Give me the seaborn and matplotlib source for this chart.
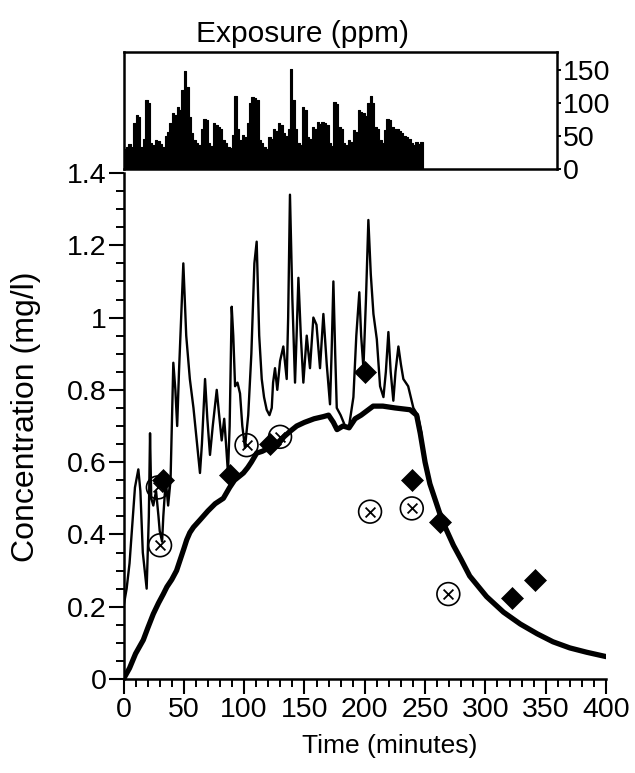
import numpy as np
import pandas as pd
import matplotlib
matplotlib.use("Agg")
import matplotlib.pyplot as plt
from matplotlib.ticker import MultipleLocator, FixedLocator, FixedFormatter
import seaborn as sns

# ---------------- data ----------------
# Exposure (ppm), 2-minute steps starting at t = 0
exp_start = list(range(0, 248, 2))
exp_ppm = [30, 34, 38, 33, 70, 81, 78, 34, 45, 104,
           100, 40, 36, 44, 42, 38, 34, 50, 56, 70,
           84, 82, 94, 90, 120, 149, 124, 79, 55, 44,
           40, 36, 60, 76, 74, 39, 35, 69, 66, 64,
           60, 44, 40, 34, 32, 51, 111, 60, 44, 51,
           48, 70, 100, 109, 107, 105, 44, 40, 34, 31,
           49, 46, 61, 58, 69, 66, 54, 50, 60, 151,
           104, 60, 39, 36, 94, 90, 49, 45, 64, 60,
           71, 68, 71, 69, 66, 39, 35, 101, 98, 64,
           60, 39, 36, 44, 41, 59, 56, 89, 86, 84,
           80, 100, 111, 100, 64, 60, 44, 40, 59, 76,
           74, 64, 60, 61, 58, 54, 50, 49, 46, 39,
           36, 41, 38, 41]

# Thin line (measured concentration, mg/l)
thin_t = [0, 2.6, 5, 9.5, 12.3, 14, 16, 19.2, 21, 22, 23, 24.7, 27, 29, 30, 32, 33, 35, 37, 39,
          41.3, 43, 44.5, 46, 49.6, 52, 55, 58, 61, 63.4, 65, 67.6, 69.5, 71.7, 74, 77.3, 79,
          81.4, 83.5, 85, 86.6, 88, 89.7, 91, 92.5, 94.5, 96.6, 98.5, 100.7, 103.4, 106, 108.5,
          110.4, 112.5, 114.6, 116.5, 118.7, 121, 122.9, 124, 125.6, 127.5, 129.8, 132.5,
          135.3, 136.5, 138, 140, 142.2, 143.5, 145, 147, 149.1, 151.9, 154.6, 157.4, 160,
          162.9, 165.7, 168.5, 171.2, 172.5, 174, 175.5, 176.8, 180, 183.7, 187, 190.6, 193,
          195.5, 197, 198.9, 201, 203, 205, 207.2, 210, 212.7, 215.5, 217.5, 219.6, 221.5,
          223.7, 225.5, 227.9, 230, 232, 236, 240.3, 244, 247]
thin_c = [0.20, 0.25, 0.32, 0.53, 0.58, 0.52, 0.35, 0.25, 0.45, 0.68, 0.50, 0.48, 0.52, 0.45,
          0.41, 0.38, 0.45, 0.55, 0.48, 0.55,
          0.875, 0.80, 0.70, 0.85, 1.15, 0.95, 0.83, 0.75, 0.65, 0.57, 0.65, 0.83, 0.72, 0.62,
          0.70, 0.80, 0.74, 0.66, 0.72, 0.65, 0.57, 0.70, 1.03, 0.95, 0.81, 0.82, 0.79, 0.70,
          0.64, 0.73, 0.90, 1.15, 1.21, 0.95, 0.83, 0.78, 0.745, 0.73, 0.75, 0.82, 0.86, 0.80,
          0.88, 0.92, 0.83, 1.0, 1.34, 1.05, 0.82, 0.95, 1.11, 0.95, 0.82, 0.95, 0.86, 1.0,
          0.98, 0.86, 1.01, 0.87, 0.76, 0.90, 1.10, 0.90, 0.75, 0.73, 0.70, 0.70, 0.78, 0.95,
          1.07, 0.95, 0.86, 1.05, 1.27, 1.12, 1.01, 0.94, 0.81, 0.78, 0.85, 0.96, 0.85, 0.77,
          0.85, 0.92, 0.87, 0.83, 0.81, 0.75, 0.73, 0.68]

# Thick line (model concentration, mg/l)
model_t = [0, 5, 10, 16.4, 20, 24.7, 29, 33, 36, 40, 44, 47, 50, 52.4, 55, 58, 63.4, 70, 76,
           82.8, 88, 92, 99.4, 103, 106, 110.4, 115, 121, 127, 133, 138, 143.6, 150, 158,
           165.7, 170, 174, 177, 182, 187, 192, 197, 203, 207, 215, 225, 237.6, 243, 246,
           250, 254, 258, 262, 266, 273.5, 280, 287, 301, 315, 329, 343, 356, 370, 384, 400]
model_c = [0, 0.03, 0.07, 0.108, 0.14, 0.18, 0.21, 0.235, 0.255, 0.275, 0.30, 0.33, 0.36, 0.385,
           0.405, 0.42, 0.44, 0.465, 0.485, 0.50, 0.53, 0.55, 0.57, 0.585, 0.60, 0.625, 0.63,
           0.64, 0.645, 0.67, 0.685, 0.70, 0.71, 0.72, 0.726, 0.73, 0.71, 0.69, 0.70, 0.695,
           0.72, 0.73, 0.745, 0.755, 0.755, 0.75, 0.745, 0.73, 0.68, 0.60, 0.54, 0.50, 0.46,
           0.425, 0.37, 0.33, 0.285, 0.228, 0.185, 0.152, 0.125, 0.103, 0.086, 0.074, 0.062]

# Diamond markers
dia_t = [33, 88, 121.5, 200, 239, 262.4, 322, 341]
dia_c = [0.55, 0.565, 0.65, 0.85, 0.55, 0.435, 0.224, 0.275]

# Circled-x markers
cx_t = [28.5, 30.3, 102, 129.8, 204.4, 239, 269.3]
cx_c = [0.53, 0.37, 0.647, 0.67, 0.463, 0.472, 0.235]

x_ticks = [0, 50, 100, 150, 200, 250, 300, 350, 400]
y_ticks = [0, 0.2, 0.4, 0.6, 0.8, 1.0, 1.2, 1.4]
y_labels = ["0", "0.2", "0.4", "0.6", "0.8", "1", "1.2", "1.4"]
exp_ticks = [0, 50, 100, 150]

# ---------------- style ----------------
sns.set_theme(style="ticks", rc={
    "axes.edgecolor": "black", "text.color": "black", "axes.labelcolor": "black",
    "xtick.color": "black", "ytick.color": "black",
})
plt.rcParams["font.family"] = ["Liberation Sans", "DejaVu Sans"]

W, H = 635, 773
fig = plt.figure(figsize=(W / 100, H / 100), dpi=100)
fig.patch.set_facecolor("white")

# main axes
x0, x1 = 123.5, 606.0
y0, y1 = 679.0, 173.0
ax = fig.add_axes([x0 / W, 1 - y0 / H, (x1 - x0) / W, (y0 - y1) / H])
ax.set_facecolor("white")

sns.lineplot(x=thin_t, y=thin_c, sort=False, estimator=None, color="black",
             linewidth=1.7, ax=ax)
sns.lineplot(x=model_t, y=model_c, sort=False, estimator=None, color="black",
             linewidth=3.8, ax=ax)
sns.scatterplot(x=dia_t, y=dia_c, marker="D", s=125, color="black",
                edgecolor="black", linewidth=0.5, ax=ax, zorder=5)
sns.scatterplot(x=cx_t, y=cx_c, marker="o", s=270, facecolor="none",
                edgecolor="black", linewidth=1.2, ax=ax, zorder=6)
sns.scatterplot(x=cx_t, y=cx_c, marker="x", s=50, color="black",
                linewidth=1.3, ax=ax, zorder=7)

ax.set_xlim(0, 400)
ax.set_ylim(0, 1.4)
ax.xaxis.set_major_locator(FixedLocator(x_ticks))
ax.xaxis.set_minor_locator(MultipleLocator(10))
ax.yaxis.set_major_locator(FixedLocator(y_ticks))
ax.yaxis.set_major_formatter(FixedFormatter(y_labels))
ax.yaxis.set_minor_locator(MultipleLocator(0.05))
for s in ["top", "right"]:
    ax.spines[s].set_visible(False)
for s in ["left", "bottom"]:
    ax.spines[s].set_linewidth(1.8)
ax.tick_params(which="major", direction="out", length=11, width=1.5,
               labelsize=20.5)
ax.tick_params(which="minor", direction="out", length=5.5, width=1.4)
ax.tick_params(axis="y", which="major", pad=1)
ax.tick_params(axis="x", which="major", pad=2)

ax.set_xlabel("Time (minutes)", fontsize=19)
ax.xaxis.set_label_coords(0.552, -0.108)
ax.set_ylabel("Concentration (mg/l)", fontsize=23)
ax.yaxis.set_label_coords(-0.172, 0.518)

# top exposure axes
exp_df = pd.DataFrame({"t": exp_start, "ppm": exp_ppm})
tx1 = 557.0
ty0, ty1 = 169.0, 52.0
ax2 = fig.add_axes([x0 / W, 1 - ty0 / H, (tx1 - x0) / W, (ty0 - ty1) / H])
ax2.set_facecolor("white")
sns.histplot(data=exp_df, x="t", weights="ppm", binwidth=2, binrange=(0, 248),
             element="step", fill=True, color="black", alpha=1.0,
             edgecolor="black", linewidth=0.8, ax=ax2)
for art in list(ax2.collections) + list(ax2.patches) + list(ax2.lines):
    art.set_antialiased(False)
    art.set_facecolor("black") if hasattr(art, "set_facecolor") else None
    if hasattr(art, "set_alpha"):
        art.set_alpha(1.0)
ax2.set_xlim(0, (tx1 - x0) / ((x1 - x0) / 400))
ax2.set_ylim(0, 177)
ax2.set_xlabel("")
ax2.set_ylabel("")
ax2.set_xticks([])
ax2.yaxis.tick_right()
ax2.yaxis.set_major_locator(FixedLocator(exp_ticks))
ax2.tick_params(axis="y", direction="out", length=3, width=1.4, pad=1,
                labelsize=20.5)
for s in ax2.spines.values():
    s.set_visible(True)
    s.set_linewidth(1.8)

fig.text(302.5 / W, 1 - 34 / H, "Exposure (ppm)", ha="center", va="center",
         fontsize=21.5)

fig.savefig("out.png", dpi=100, facecolor="white")
